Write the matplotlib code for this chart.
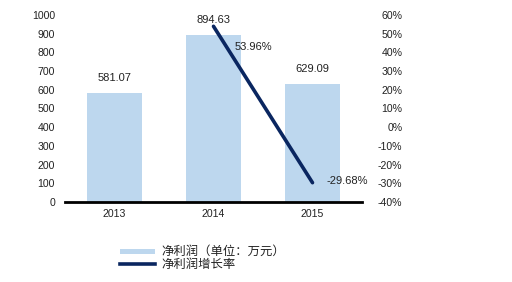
import matplotlib
matplotlib.use("Agg")
import matplotlib.pyplot as plt
from matplotlib.patches import Rectangle
from matplotlib.lines import Line2D

years = ["2013", "2014", "2015"]
profit = [581.07, 894.63, 629.09]
growth_years = ["2014", "2015"]
growth = [53.96, -29.68]
left_ticks = [0, 100, 200, 300, 400, 500, 600, 700, 800, 900, 1000]
right_ticks = [-40, -30, -20, -10, 0, 10, 20, 30, 40, 50, 60]
legend_labels = ["净利润（单位：万元）", "净利润增长率"]

bar_color = "#BDD7EE"
line_color = "#0A2660"
tick_font = "Liberation Sans"
label_font = "Liberation Sans"
txt_color = "#222222"

W, H = 512, 282
fig = plt.figure(figsize=(W/100, H/100), dpi=100)
ax = fig.add_axes([65/W, 1-202/H, 297/W, 187/H])
x = list(range(len(years)))
ax.bar(x, profit, width=0.555, color=bar_color, zorder=2)
ax.set_xlim(-0.5, 2.5)
ax.set_ylim(0, 1000)
ax.set_yticks(left_ticks)
ax.set_xticks(x)
ax.set_xticklabels(years)
for s in ["top", "left", "right"]:
    ax.spines[s].set_visible(False)
ax.spines["bottom"].set_linewidth(2)
ax.spines["bottom"].set_color("black")
ax.spines["bottom"].set_zorder(5)
ax.tick_params(axis="both", length=0, labelsize=7.6, colors=txt_color)
ax.tick_params(axis="y", pad=7.2)
ax.tick_params(axis="x", pad=5)
for lab in ax.get_xticklabels() + ax.get_yticklabels():
    lab.set_fontfamily(tick_font)

for i, v in enumerate(profit):
    ax.text(i, v + 80, f"{v:.2f}", ha="center", va="center",
            fontsize=8, family=label_font, color=txt_color)

ax2 = ax.twinx()
gx = [years.index(y) for y in growth_years]
ax2.plot(gx, growth, color=line_color, lw=2.6, zorder=3, solid_capstyle="round")
ax2.set_ylim(-40, 60)
ax2.set_yticks(right_ticks)
ax2.set_yticklabels([f"{t}%" for t in right_ticks])
for s in ["top", "left", "right", "bottom"]:
    ax2.spines[s].set_visible(False)
ax2.tick_params(axis="y", length=0, labelsize=7.6, colors=txt_color, pad=29)
for lab in ax2.get_yticklabels():
    lab.set_fontfamily(tick_font)
    lab.set_horizontalalignment("right")

ax2.text(gx[0] + 0.215, growth[0] - 11, f"{growth[0]:.2f}%", ha="left", va="center",
         fontsize=8, family=label_font, color=txt_color)
ax2.text(gx[1] + 0.145, growth[1] + 0.8, f"{growth[1]:.2f}%", ha="left", va="center",
         fontsize=8, family=label_font, color=txt_color)

# legend (drawn in figure pixel coordinates)
fig.add_artist(Rectangle((120/W, 1-254/H), 35/W, 5/H, transform=fig.transFigure,
                         facecolor=bar_color, edgecolor="none"))
fig.add_artist(Line2D([120/W, 155/W], [1-264/H, 1-264/H], transform=fig.transFigure,
                      color=line_color, lw=2.6))
for lbl, yy in zip(legend_labels, [251, 264]):
    fig.text(161/W, 1-yy/H, lbl, ha="left", va="center", fontsize=8.9,
             family=["Noto Sans CJK SC", "DejaVu Sans"], color=txt_color)

fig.savefig("out.png", dpi=100)
